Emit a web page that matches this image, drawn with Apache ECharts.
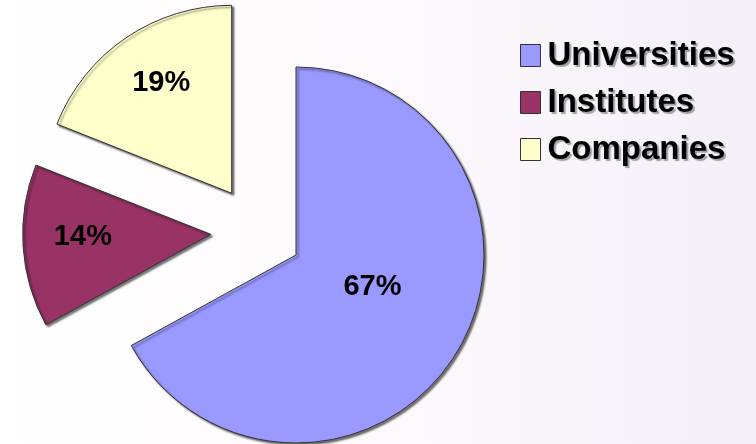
<!DOCTYPE html>
<html>
<head>
<meta charset="utf-8">
<script src="https://cdn.jsdelivr.net/npm/echarts@6/dist/echarts.min.js"></script>
<style>
html,body{margin:0;padding:0;background:#fff;}
#c{width:756px;height:444px;}
</style>
</head>
<body>
<div id="c"></div>
<script>
// Data
const categories = ['Universities', 'Institutes', 'Companies'];
const values = [67, 14, 19];
const colors = ['#9999FF', '#993366', '#FFFFCC'];
// Layout per exploded slice (pie vertex) and label nudges
const centers = [[296, 255], [210.7, 234.3], [231.7, 193.3]];
const labelShift = [[-7, -17], [-31, -3], [-16, -30]];

const chart = echarts.init(document.getElementById('c'), null, {renderer: 'canvas'});

const series = categories.map((name, k) => ({
  type: 'pie',
  center: centers[k],
  radius: 188,
  startAngle: 90,
  clockwise: true,
  silent: true,
  animation: false,
  avoidLabelOverlap: false,
  labelLine: {show: false},
  label: {
    show: true,
    position: 'inside',
    formatter: '{d}%',
    color: '#000',
    fontSize: 29,
    fontWeight: 'bold',
    fontFamily: 'Liberation Sans, Arial, sans-serif'
  },
  labelLayout: {dx: labelShift[k][0], dy: labelShift[k][1]},
  emphasis: {disabled: true},
  data: categories.map((n, i) => ({
    name: n,
    value: values[i],
    itemStyle: i === k ? {
      color: colors[i],
      borderColor: '#333',
      borderWidth: 1,
      shadowColor: 'rgba(0,0,0,0.55)',
      shadowBlur: 2,
      shadowOffsetX: 2,
      shadowOffsetY: 2
    } : {color: 'rgba(0,0,0,0)', borderWidth: 0},
    label: {show: i === k}
  }))
}));

chart.setOption({
  backgroundColor: {
    type: 'linear', x: 0, y: 0, x2: 1, y2: 0,
    colorStops: [
      {offset: 0, color: '#ffffff'},
      {offset: 0.5, color: '#fdf9fc'},
      {offset: 1, color: '#f5eff8'}
    ]
  },
  legend: {
    orient: 'vertical',
    left: 515,
    top: 34,
    itemWidth: 20,
    itemHeight: 22,
    itemGap: 14,
    selectedMode: false,
    icon: 'rect',
    textStyle: {
      color: '#000',
      fontSize: 33,
      fontWeight: 'bold',
      fontFamily: 'Liberation Sans, Arial, sans-serif',
      padding: [0, 0, 0, 2],
      textShadowColor: 'rgba(0,0,0,0.35)',
      textShadowOffsetX: 2,
      textShadowOffsetY: 2,
      textShadowBlur: 1
    },
    data: categories.map((n, i) => ({
      name: n,
      itemStyle: {color: colors[i], borderColor: '#333', borderWidth: 1}
    }))
  },
  series: series
});
</script>
</body>
</html>
